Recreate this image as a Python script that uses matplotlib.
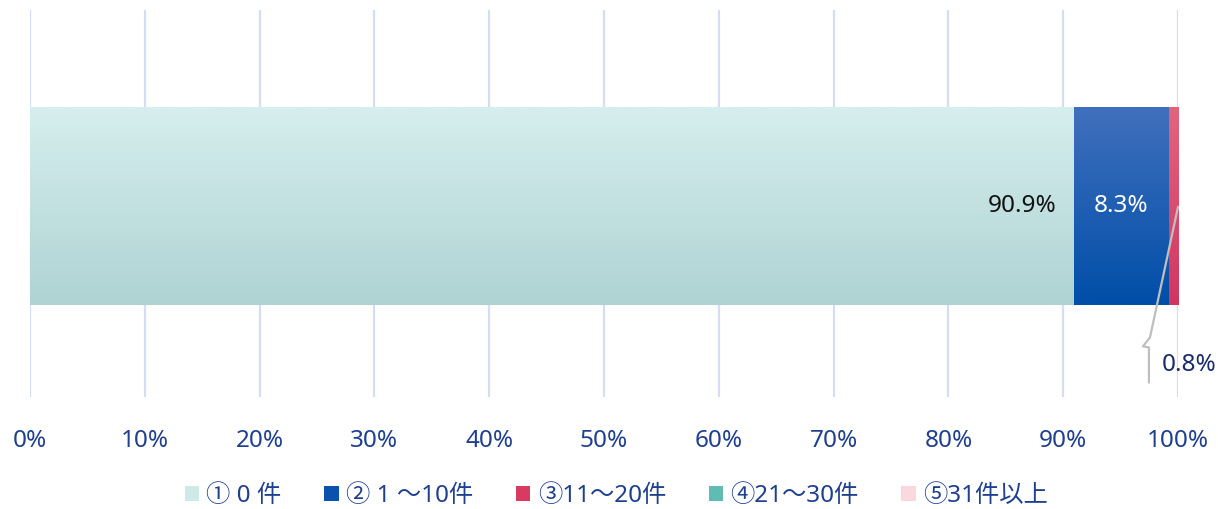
import numpy as np
import matplotlib.pyplot as plt
from matplotlib.colors import LinearSegmentedColormap
from matplotlib.patches import Patch

plt.rcParams['font.family'] = ['Noto Sans', 'Noto Sans CJK JP', 'DejaVu Sans']

categories = ['① 0 件', '② 1 ～10件', '③11～20件', '④21～30件', '⑤31件以上']
values = [90.9, 8.3, 0.8, 0.0, 0.0]
labels = ['90.9%', '8.3%', '0.8%', '', '']
colors = ['#cfe9e9', '#0a52ad', '#d83a60', '#5fbcb5', '#f9d9de']
grad_top = ['#d6eeee', '#4070bd', '#e2647f', '#7ccbc4', '#fbe3e7']
grad_bot = ['#afd3d3', '#004ea8', '#d13660', '#55b3ac', '#f4cfd6']
ticks = np.arange(0, 101, 10)
tick_labels = [f'{t}%' for t in ticks]

fig = plt.figure(figsize=(12.18, 5.09), dpi=100)
ax = fig.add_axes([30/1218, 1 - 397/509, 1148/1218, 387/509])
ax.set_xlim(0, 100)
ax.set_ylim(-0.5, 0.5)

for t in ticks:
    ax.axvline(t, color='#d5dcf5', lw=1.6, zorder=0)

left = 0
bh = 198/387
yc = -0.007
for i, v in enumerate(values):
    if v <= 0:
        continue
    rect = ax.barh(yc, v, left=left, height=bh, color=colors[i], zorder=2)[0]
    cmap = LinearSegmentedColormap.from_list('g', [grad_bot[i], grad_top[i]])
    grad = np.linspace(0, 1, 100).reshape(-1, 1)
    im = ax.imshow(grad, cmap=cmap, aspect='auto', origin='lower',
                   extent=[left, left + v, yc - bh/2, yc + bh/2], zorder=3)
    im.set_clip_path(rect)
    left += v

ax.set_xlim(0, 100)
ax.set_ylim(-0.5, 0.5)

ax.text(values[0] - 1.5, yc, labels[0], ha='right', va='center', fontsize=17.5, color='#111111', zorder=5)
ax.text(values[0] + values[1]/2, yc, labels[1], ha='center', va='center', fontsize=17.5, color='white', zorder=5)

# leader line for 0.8%
lx = [100, 97.56, 96.95, 97.47, 97.47]
ly = [-0.009, -0.346, -0.369, -0.372, -0.462]
ax.plot(lx, ly, color='#bfbfbf', lw=1.6, clip_on=False, zorder=4)
ax.text(98.6, -0.418, labels[2], ha='left', va='center', fontsize=17.5, color='#1a2a6c', clip_on=False)

ax.set_yticks([])
ax.set_xticks(ticks)
ax.set_xticklabels(tick_labels, fontsize=17.5, color='#1f3f8f')
ax.tick_params(axis='x', length=0, pad=23)
for s in ax.spines.values():
    s.set_visible(False)

handles = [Patch(facecolor=c, edgecolor='none') for c in colors]
fig.legend(handles, categories, loc='center', bbox_to_anchor=(0.506, 0.025), ncol=5,
           frameon=False, fontsize=17.5, handlelength=0.6, handleheight=0.6,
           handletextpad=0.3, columnspacing=1.75, labelcolor='#1f3f8f')

fig.savefig('out.png', dpi=100)
